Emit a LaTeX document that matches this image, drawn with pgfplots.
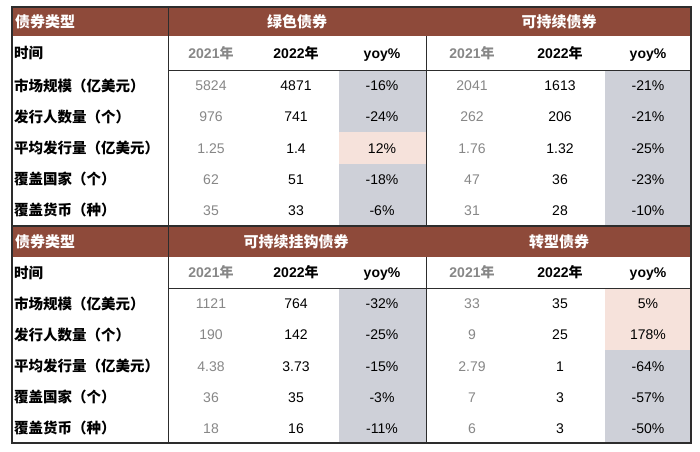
\documentclass[border=0pt]{standalone}
\usepackage{pgfplots}
\pgfplotsset{compat=1.18}
\usepackage{fontspec}
\setmainfont{Liberation Sans}
\newfontfamily\cjk{Noto Sans CJK SC}
\definecolor{hdr}{RGB}{142,74,58}
\definecolor{gfill}{RGB}{206,208,216}
\definecolor{pfill}{RGB}{246,226,219}
\definecolor{old}{RGB}{135,135,135}
\definecolor{bord}{RGB}{45,45,45}
\tikzset{
  oldnum/.style={anchor=base, font=\fontsize{14}{16}\selectfont, text=old, inner sep=0pt},
  newnum/.style={anchor=base, font=\fontsize{14}{16}\selectfont, text=black, inner sep=0pt},
  lab/.style={anchor=base west, font=\cjk\bfseries\fontsize{14.5}{16}\selectfont, inner sep=0pt},
  hlab/.style={anchor=base, font=\cjk\bfseries\fontsize{15}{17}\selectfont, text=white, inner sep=0pt},
  hnum/.style={anchor=base, font=\bfseries\fontsize{14}{16}\selectfont, inner sep=0pt},
}
\newcommand{\drow}[8]{%
  \node[lab] at (axis cs:14,#1+5.5) {#2};
  \node[oldnum] at (axis cs:211,#1+5) {#3};
  \node[newnum] at (axis cs:296,#1+5) {#4};
  \node[newnum] at (axis cs:382,#1+5) {#5};
  \node[oldnum] at (axis cs:472,#1+5) {#6};
  \node[newnum] at (axis cs:560,#1+5) {#7};
  \node[newnum] at (axis cs:648,#1+5) {#8};}
\newcommand{\trow}[1]{%
  \node[lab] at (axis cs:14,#1+5.5) {时间};
  \node[hnum, text=old] at (axis cs:211,#1+5) {2021{\cjk\bfseries 年}};
  \node[hnum] at (axis cs:296,#1+5) {2022{\cjk\bfseries 年}};
  \node[hnum] at (axis cs:382,#1+5) {yoy\%};
  \node[hnum, text=old] at (axis cs:472,#1+5) {2021{\cjk\bfseries 年}};
  \node[hnum] at (axis cs:560,#1+5) {2022{\cjk\bfseries 年}};
  \node[hnum] at (axis cs:648,#1+5) {yoy\%};}
\begin{document}
\begin{tikzpicture}
\begin{axis}[
  scale only axis, width=700pt, height=451pt,
  xmin=0, xmax=700, ymin=0, ymax=451, y dir=reverse,
  hide axis, clip=false]
% background
\addplot[draw=none, fill=white] coordinates {(0,0) (700,0) (700,451) (0,451)} -- cycle;
% header bands
\addplot[draw=none, fill=hdr] coordinates {(12,7) (691,7) (691,36) (12,36)} -- cycle;
\addplot[draw=none, fill=hdr] coordinates {(12,226) (691,226) (691,257) (12,257)} -- cycle;
% yoy columns (grey)
\addplot[draw=none, fill=gfill] coordinates {(339,70) (426,70) (426,226) (339,226)} -- cycle;
\addplot[draw=none, fill=gfill] coordinates {(605,70) (691,70) (691,226) (605,226)} -- cycle;
\addplot[draw=none, fill=gfill] coordinates {(339,288) (426,288) (426,443) (339,443)} -- cycle;
\addplot[draw=none, fill=gfill] coordinates {(605,288) (691,288) (691,443) (605,443)} -- cycle;
% positive yoy (pink)
\addplot[draw=none, fill=pfill] coordinates {(339,132.4) (426,132.4) (426,163.6) (339,163.6)} -- cycle;
\addplot[draw=none, fill=pfill] coordinates {(605,288) (691,288) (691,350.2) (605,350.2)} -- cycle;
% lines
\draw[bord, line width=1pt] (axis cs:168,7) -- (axis cs:168,443);
\draw[bord, line width=1pt] (axis cs:426,36) -- (axis cs:426,226);
\draw[bord, line width=1pt] (axis cs:426,257) -- (axis cs:426,443);
\draw[bord, line width=1pt] (axis cs:168,70) -- (axis cs:691,70);
\draw[bord, line width=1pt] (axis cs:168,288) -- (axis cs:691,288);
\draw[bord, line width=1.5pt] (axis cs:12,226) -- (axis cs:691,226);
\draw[bord, line width=1.3pt] (axis cs:12,7) rectangle (axis cs:691,443);
% header text
\node[hlab, anchor=base west] at (axis cs:15,27.5) {债券类型};
\node[hlab] at (axis cs:297,27.5) {绿色债券};
\node[hlab] at (axis cs:559,27.5) {可持续债券};
\node[hlab, anchor=base west] at (axis cs:15,247) {债券类型};
\node[hlab] at (axis cs:296,247) {可持续挂钩债券};
\node[hlab] at (axis cs:559,247) {转型债券};
% top block
\trow{53}
\drow{85.6}{市场规模（亿美元）}{5824}{4871}{-16\%}{2041}{1613}{-21\%}
\drow{116.8}{发行人数量（个）}{976}{741}{-24\%}{262}{206}{-21\%}
\drow{148}{平均发行量（亿美元）}{1.25}{1.4}{12\%}{1.76}{1.32}{-25\%}
\drow{179.2}{覆盖国家（个）}{62}{51}{-18\%}{47}{36}{-23\%}
\drow{210.4}{覆盖货币（种）}{35}{33}{-6\%}{31}{28}{-10\%}
% bottom block
\trow{272.5}
\drow{303.6}{市场规模（亿美元）}{1121}{764}{-32\%}{33}{35}{5\%}
\drow{334.8}{发行人数量（个）}{190}{142}{-25\%}{9}{25}{178\%}
\drow{366}{平均发行量（亿美元）}{4.38}{3.73}{-15\%}{2.79}{1}{-64\%}
\drow{397.2}{覆盖国家（个）}{36}{35}{-3\%}{7}{3}{-57\%}
\drow{428.4}{覆盖货币（种）}{18}{16}{-11\%}{6}{3}{-50\%}
\end{axis}
\end{tikzpicture}
\end{document}
